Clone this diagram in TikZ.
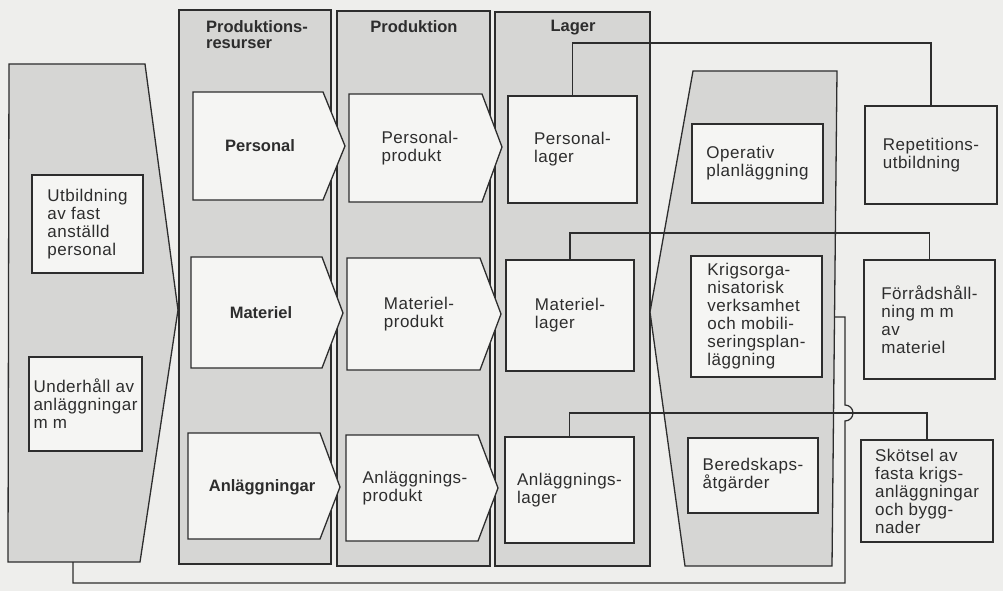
\documentclass[tikz,border=0pt]{standalone}
\usepackage{fontspec}
\setmainfont{Liberation Sans}[LetterSpace=3]
\newfontfamily\labelfont{Liberation Sans}[LetterSpace=0]
\definecolor{pagec}{RGB}{238,238,236}
\definecolor{grayc}{RGB}{214,214,212}
\definecolor{boxc}{RGB}{245,245,243}
\definecolor{inkc}{RGB}{45,45,45}
\definecolor{textc}{RGB}{45,45,45}
\begin{document}
\begin{tikzpicture}[x=1pt,y=-1pt,
  line width=1.3pt,
  every node/.style={inner sep=0pt, outer sep=0pt},
  band/.style={draw=inkc, fill=grayc, line join=miter},
  plate/.style={draw=inkc, fill=boxc, line join=miter},
  txt/.style={font=\fontsize{17}{18}\selectfont, align=left, text=textc},
  hd/.style={font=\labelfont\bfseries\fontsize{16.5}{16.5}\selectfont, align=left, text=textc},
  box/.style={plate, txt, rectangle},
  rbox/.style={draw=inkc, txt, rectangle},
  wire/.style={draw=inkc, line width=1.2pt}
]
% page
\fill[pagec] (0,0) rectangle (1003,591);
\useasboundingbox (0,0) rectangle (1003,591);

% left funnel and the three columns
\path[band] (9,64) -- (145,64) -- (178,310) -- (140,562) -- (8,562) -- cycle;
\path[band] (179,10) rectangle (331,564);
\path[band] (337,11) rectangle (490,566);
\path[band] (495,12) rectangle (650,566);
% right funnel
\path[band] (693,71) -- (837,71) -- (832,566) -- (685,566) -- (650,312) -- cycle;

% column headings
\node[hd, anchor=north] (h1) at (257,20.5) {Produktions-\\resurser};
\node[hd, anchor=north] (h2) at (414,20.5) {Produktion};
\node[hd, anchor=north] (h3) at (573,20.5) {Lager};

% left funnel contents
\node[box, minimum width=111, minimum height=98] (utb) at (87.5,224) {Utbildning\\av fast\\anställd\\personal};
\node[box, minimum width=113, minimum height=94] (uh) at (85.5,404) {Underhåll av\\anläggningar\\m m};

% production resources
\path[plate] (193,92) -- (323,92) -- (345,146) -- (323,200) -- (193,200) -- cycle;
\node[hd] (pers) at (260,146) {Personal};
\path[plate] (191,257) -- (322,257) -- (343,313) -- (322,368) -- (191,368) -- cycle;
\node[hd] (mat) at (261,313) {Materiel};
\path[plate] (188,433) -- (320,433) -- (340,487) -- (320,539) -- (188,539) -- cycle;
\node[hd] (anl) at (262,487) {Anläggningar};

% production
\path[plate] (349,94) -- (482,94) -- (502,147) -- (482,202) -- (349,202) -- cycle;
\node[txt] (pprod) at (420,148) {Personal-\\produkt};
\path[plate] (347,258) -- (480,258) -- (501,314) -- (480,370) -- (347,370) -- cycle;
\node[txt] (mprod) at (419,314) {Materiel-\\produkt};
\path[plate] (346,435) -- (478,435) -- (498,488) -- (478,541) -- (346,541) -- cycle;
\node[txt] (aprod) at (415,488) {Anläggnings-\\produkt};

% stock
\node[box, minimum width=129, minimum height=107] (plag) at (572.5,149.5) {Personal-\\lager};
\node[box, minimum width=128, minimum height=111] (mlag) at (570,315.5) {Materiel-\\lager};
\node[box, minimum width=129, minimum height=106] (alag) at (569.5,490) {Anläggnings-\\lager};

% right funnel contents
\node[box, minimum width=131, minimum height=79] (oper) at (757.5,163.5) {Operativ\\planläggning};
\node[box, minimum width=131, minimum height=121] (krig) at (756.5,316.5) {Krigsorga-\\nisatorisk\\verksamhet\\och mobili-\\seringsplan-\\läggning};
\node[box, minimum width=130, minimum height=75] (bered) at (753,475.5) {Beredskaps-\\åtgärder};

% maintenance activities
\node[rbox, minimum width=132, minimum height=98] (rep) at (931,155) {Repetitions-\\utbildning};
\node[rbox, minimum width=131, minimum height=119] (forr) at (929.5,319.5) {Förrådshåll-\\ning m m\\av\\materiel};
\node[rbox, minimum width=132, minimum height=102] (skot) at (927,491) {Skötsel av\\fasta krigs-\\anläggningar\\och bygg-\\nader};

% links from stock to maintenance
\coordinate (busP) at (0,43);
\coordinate (busM) at (0,233);
\coordinate (busA) at (0,413);
\draw[wire] (plag.north) -- (plag.north |- busP) -| (rep.north);
\draw[wire] (mlag.north) -- (mlag.north |- busM) -| (forr.north);
\draw[wire] (alag.north) -- (alag.north |- busA) -| (skot.north);

% feedback loop with a hop over the lower link
\coordinate (fbout) at (73,562);
\coordinate (fbin) at (834.5,317);
\coordinate (fbl) at (73,583);
\coordinate (fbr) at (845,583);
\coordinate (hopl) at (845,421);
\coordinate (fbt) at (845,317);
\draw[wire] (fbout) -- (fbl) -- (fbr) -- (hopl)
  arc[start angle=90, end angle=-90, radius=8] -- (fbt) -- (fbin);
\end{tikzpicture}
\end{document}
